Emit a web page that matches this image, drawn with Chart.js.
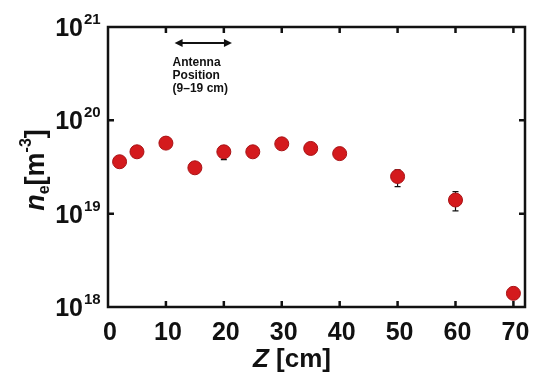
<!DOCTYPE html>
<html>
<head>
<meta charset="utf-8">
<script src="https://cdn.jsdelivr.net/npm/chart.js@4/dist/chart.umd.min.js"></script>
<style>
html,body{margin:0;padding:0;background:#fff;}
#wrap{width:533px;height:388px;position:relative;}
</style>
</head>
<body>
<div id="wrap"><canvas id="c" width="533" height="388"></canvas></div>
<script>
// ---- data ----
const zPositions = [2, 5, 10, 15, 20, 25, 30, 35, 40, 50, 60, 70];
const neValues   = [3.6e19, 4.6e19, 5.7e19, 3.1e19, 4.6e19, 4.6e19, 5.6e19, 5.0e19, 4.4e19, 2.5e19, 1.4e19, 1.4e18];
const errLow     = [null, null, null, null, 3.8e19, null, null, null, null, 1.95e19, 1.07e19, null];
const errHigh    = [null, null, null, null, 5.3e19, null, null, null, null, 2.95e19, 1.72e19, null];
const xTickValues = [0, 10, 20, 30, 40, 50, 60, 70];
const yTickExponents = [18, 19, 20, 21];
const antennaArrow = [11.5, 21.4];
const antennaLabel = ["Antenna", "Position", "(9\u201319 cm)"];

const FONT = '"Liberation Sans", Arial, Helvetica, sans-serif';

function drawRuns(ctx, runs, x, y, align) {
  let total = 0;
  runs.forEach(r => { ctx.font = r.font; total += ctx.measureText(r.text).width; });
  let cx = align === 'center' ? x - total / 2 : (align === 'right' ? x - total : x);
  runs.forEach(r => {
    ctx.font = r.font;
    ctx.textAlign = 'left';
    ctx.textBaseline = 'alphabetic';
    ctx.fillText(r.text, cx, y + (r.dy || 0));
    cx += ctx.measureText(r.text).width;
  });
}

const customAxes = {
  id: 'customAxes',
  beforeDatasetsDraw(chart) {
    const ctx = chart.ctx, xs = chart.scales.x, ys = chart.scales.y;
    ctx.save();
    ctx.strokeStyle = '#111';
    ctx.lineWidth = 1.2;
    for (let i = 0; i < zPositions.length; i++) {
      if (errLow[i] == null) continue;
      const px = xs.getPixelForValue(zPositions[i]);
      const y1 = ys.getPixelForValue(errLow[i]);
      const y2 = ys.getPixelForValue(errHigh[i]);
      ctx.beginPath();
      ctx.moveTo(px, y1); ctx.lineTo(px, y2);
      ctx.moveTo(px - 3, y1); ctx.lineTo(px + 3, y1);
      ctx.moveTo(px - 3, y2); ctx.lineTo(px + 3, y2);
      ctx.stroke();
    }
    ctx.restore();
  },
  afterDraw(chart) {
    const ctx = chart.ctx, xs = chart.scales.x, ys = chart.scales.y;
    const a = chart.chartArea;
    ctx.save();
    ctx.fillStyle = '#111';
    ctx.strokeStyle = '#111';
    // frame
    ctx.lineWidth = 2.5;
    ctx.strokeRect(a.left, a.top, a.right - a.left, a.bottom - a.top);
    // ticks
    ctx.beginPath();
    xTickValues.forEach(v => {
      if (v === 0) return;
      const px = xs.getPixelForValue(v);
      ctx.moveTo(px, a.bottom); ctx.lineTo(px, a.bottom - 6);
      ctx.moveTo(px, a.top); ctx.lineTo(px, a.top + 6);
    });
    yTickExponents.forEach(e => {
      if (e === 18 || e === 21) return;
      const py = ys.getPixelForValue(Math.pow(10, e));
      ctx.moveTo(a.left, py); ctx.lineTo(a.left + 6, py);
      ctx.moveTo(a.right, py); ctx.lineTo(a.right - 6, py);
    });
    ctx.stroke();
    // x tick labels
    ctx.font = 'bold 25px ' + FONT;
    ctx.textAlign = 'center';
    ctx.textBaseline = 'alphabetic';
    xTickValues.forEach(v => {
      const px = xs.getPixelForValue(v);
      ctx.fillText(String(v), px + 2, 340);
    });
    // y tick labels
    yTickExponents.forEach(e => {
      const py = ys.getPixelForValue(Math.pow(10, e));
      ctx.font = 'bold 25px ' + FONT;
      ctx.textAlign = 'right';
      ctx.fillText('10', 83, py + 9);
      ctx.font = 'bold 15px ' + FONT;
      ctx.textAlign = 'left';
      ctx.fillText(String(e), 84, py - 3);
    });
    // x title
    drawRuns(ctx, [
      {text: 'Z', font: 'italic bold 26px ' + FONT},
      {text: ' [cm]', font: 'bold 26px ' + FONT}
    ], 292, 367, 'center');
    // y title
    ctx.save();
    ctx.translate(44, 170);
    ctx.rotate(-Math.PI / 2);
    drawRuns(ctx, [
      {text: 'n', font: 'italic bold 27px ' + FONT},
      {text: 'e', font: 'bold 16px ' + FONT, dy: 5},
      {text: '[m', font: 'bold 27px ' + FONT},
      {text: '-3', font: 'bold 16px ' + FONT, dy: -13},
      {text: ']', font: 'bold 27px ' + FONT}
    ], 0, 0, 'center');
    ctx.restore();
    // antenna arrow
    const ax1 = xs.getPixelForValue(antennaArrow[0]);
    const ax2 = xs.getPixelForValue(antennaArrow[1]);
    const ay = a.top + 16;
    ctx.lineWidth = 2;
    ctx.beginPath();
    ctx.moveTo(ax1 + 4, ay); ctx.lineTo(ax2 - 4, ay);
    ctx.stroke();
    ctx.beginPath();
    ctx.moveTo(ax1, ay); ctx.lineTo(ax1 + 8, ay - 4); ctx.lineTo(ax1 + 8, ay + 4); ctx.closePath();
    ctx.moveTo(ax2, ay); ctx.lineTo(ax2 - 8, ay - 4); ctx.lineTo(ax2 - 8, ay + 4); ctx.closePath();
    ctx.fill();
    ctx.font = 'bold 12px ' + FONT;
    ctx.textAlign = 'left';
    antennaLabel.forEach((t, i) => {
      ctx.fillText(t, ax1 - 2, ay + 23 + i * 13);
    });
    ctx.restore();
  }
};

new Chart(document.getElementById('c'), {
  type: 'scatter',
  data: {
    datasets: [{
      data: zPositions.map((z, i) => ({x: z, y: neValues[i]})),
      backgroundColor: '#d41a1d',
      borderColor: '#a81215',
      borderWidth: 1,
      pointRadius: 7,
      pointHoverRadius: 7
    }]
  },
  options: {
    responsive: false,
    devicePixelRatio: 1,
    animation: false,
    layout: {padding: {top: 27, right: 6, left: 0, bottom: 0}},
    plugins: {legend: {display: false}, tooltip: {enabled: false}},
    scales: {
      x: {
        type: 'linear', min: 0, max: 72,
        grid: {display: false}, border: {display: false},
        ticks: {display: false},
        afterFit(s) { s.height = 81; }
      },
      y: {
        type: 'logarithmic', min: 1e18, max: 1e21,
        grid: {display: false}, border: {display: false},
        ticks: {display: false},
        afterFit(s) { s.width = 108; }
      }
    }
  },
  plugins: [customAxes]
});
</script>
</body>
</html>
